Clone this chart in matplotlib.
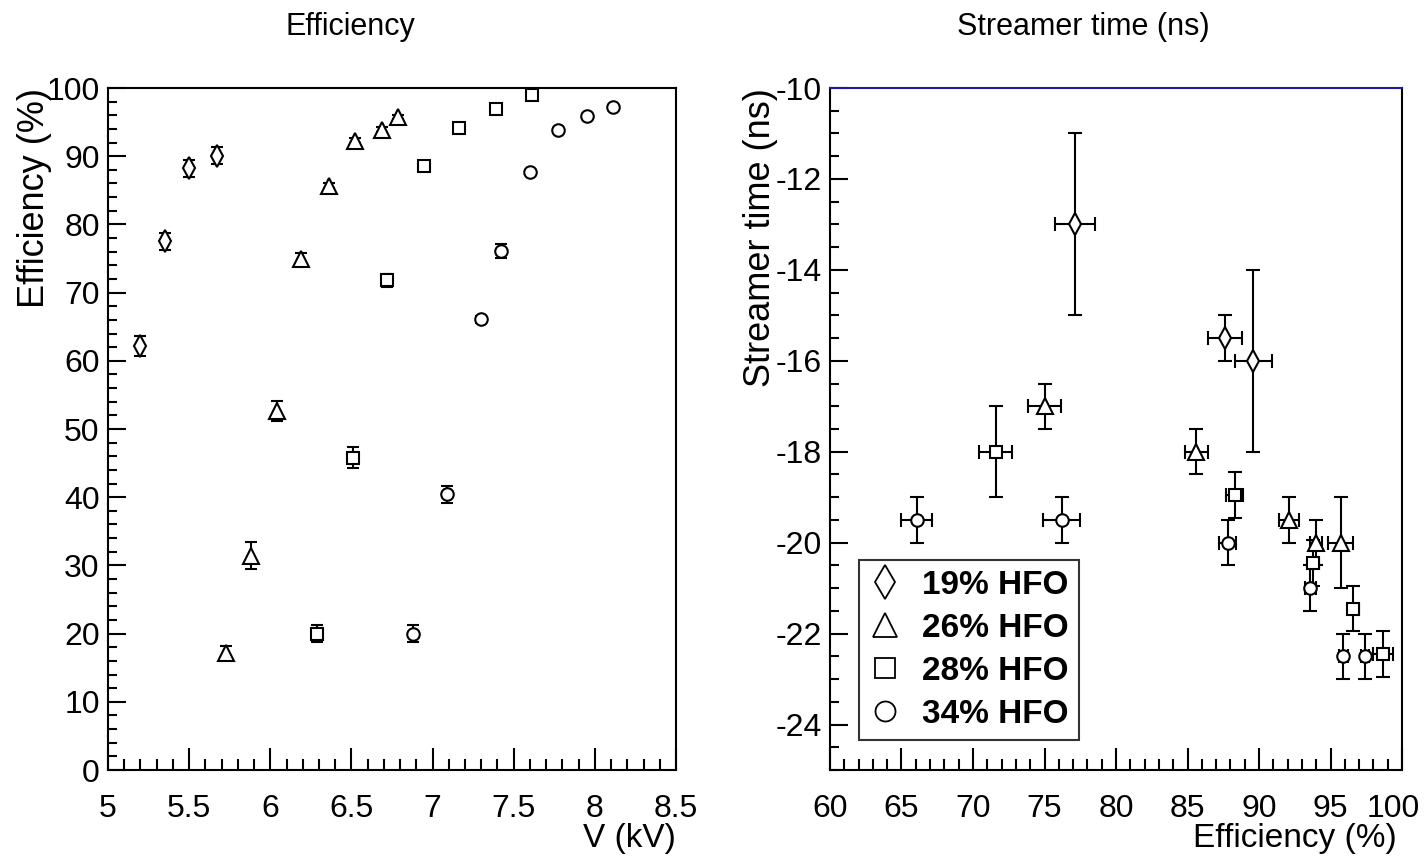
import matplotlib
matplotlib.use("Agg")
import matplotlib.pyplot as plt
from matplotlib.lines import Line2D
from matplotlib.ticker import MultipleLocator

plt.rcParams['font.family'] = ['Liberation Sans', 'DejaVu Sans']
plt.rcParams['axes.unicode_minus'] = False

# --- left panel: efficiency vs HV ---
v19 = [5.20, 5.35, 5.50, 5.67]
eff19 = [62.2, 77.5, 88.2, 90.1]
err19 = [1.5, 1.3, 1.2, 1.2]

v26 = [5.73, 5.88, 6.04, 6.19, 6.36, 6.52, 6.69, 6.79]
eff26 = [17.2, 31.4, 52.6, 75.0, 85.7, 92.3, 93.9, 95.8]
err26 = [1.0, 2.0, 1.5, 0.8, 0.4, 0.4, 0.4, 0.3]

v28 = [6.29, 6.51, 6.72, 6.95, 7.16, 7.39, 7.61]
eff28 = [20.0, 45.8, 71.8, 88.6, 94.2, 96.9, 99.0]
err28 = [1.2, 1.5, 1.0, 0.3, 0.3, 0.3, 0.2]

v34 = [6.88, 7.09, 7.30, 7.42, 7.60, 7.77, 7.95, 8.11]
eff34 = [20.0, 40.4, 66.1, 76.1, 87.7, 93.9, 95.9, 97.2]
err34 = [1.2, 1.2, 0.5, 1.0, 0.3, 0.3, 0.3, 0.3]

# --- right panel: streamer time vs efficiency ---
se19 = [77.1, 87.6, 89.6]
sex19 = [1.4, 1.2, 1.3]
st19 = [-13.0, -15.5, -16.0]
sty19 = [2.0, 0.5, 2.0]

se26 = [75.0, 85.6, 92.1, 94.0, 95.7]
sex26 = [1.15, 0.8, 0.7, 0.4, 0.85]
st26 = [-17.0, -18.0, -19.5, -20.0, -20.0]
sty26 = [0.5, 0.5, 0.5, 0.5, 1.0]

se28 = [71.6, 88.3, 93.8, 96.6, 98.7]
sex28 = [1.15, 0.6, 0.4, 0.4, 0.7]
st28 = [-18.0, -18.95, -20.45, -21.45, -22.45]
sty28 = [1.0, 0.5, 0.5, 0.5, 0.5]

se34 = [66.05, 76.2, 87.8, 93.6, 95.9, 97.4]
sex34 = [1.1, 1.3, 0.6, 0.4, 0.3, 0.3]
st34 = [-19.5, -19.5, -20.0, -21.0, -22.5, -22.5]
sty34 = [0.5, 0.5, 0.5, 0.5, 0.5, 0.5]

labels = ["19% HFO", "26% HFO", "28% HFO", "34% HFO"]
markers = ["d", "^", "s", "o"]
msizes = [11, 11, 9, 9]

fig = plt.figure(figsize=(14.24, 8.58), dpi=100)
W, H = 1424, 858
axL = fig.add_axes([108 / W, 88 / H, 568 / W, 682 / H])
axR = fig.add_axes([830 / W, 88 / H, 572 / W, 682 / H])

XPAD = 17


def style(ax):
    for s in ax.spines.values():
        s.set_linewidth(1.5)
    ax.tick_params(which="both", direction="in", top=False, right=False,
                   width=1.5, labelsize=23, colors="black")
    ax.tick_params(axis="x", which="major", length=16, pad=XPAD)
    ax.tick_params(axis="x", which="minor", length=8)
    ax.tick_params(axis="y", which="major", length=13, pad=6)
    ax.tick_params(axis="y", which="minor", length=6.5)


eb = dict(color="black", mfc="white", mec="black", mew=1.5, elinewidth=1.5,
          capthick=1.5, linestyle="none")

left = [(v19, eff19, err19), (v26, eff26, err26), (v28, eff28, err28), (v34, eff34, err34)]
for (x, y, e), m, ms in zip(left, markers, msizes):
    axL.errorbar(x, y, yerr=e, fmt=m, ms=ms, capsize=4.5, **eb)

axL.set_xlim(5, 8.5)
axL.set_ylim(0, 100)
axL.xaxis.set_major_locator(MultipleLocator(0.5))
axL.xaxis.set_minor_locator(MultipleLocator(0.1))
axL.yaxis.set_major_locator(MultipleLocator(10))
axL.yaxis.set_minor_locator(MultipleLocator(2))
axL.xaxis.set_major_formatter(plt.FuncFormatter(lambda v, p: f"{v:g}"))
style(axL)
axL.set_xlabel("V (kV)", fontsize=24, ha="right", va="bottom")
axL.xaxis.set_label_coords(1.0, -(858 - 770 - 4) / 682)
axL.set_ylabel("Efficiency (%)", fontsize=26, ha="right", va="center")
axL.yaxis.set_label_coords(-0.13, 1.0)

right = [(se19, st19, sex19, sty19), (se26, st26, sex26, sty26),
         (se28, st28, sex28, sty28), (se34, st34, sex34, sty34)]
for (x, y, ex, ey), m, ms in zip(right, markers, msizes):
    axR.errorbar(x, y, xerr=ex, yerr=ey, fmt=m, ms=ms, capsize=5, **eb)

axR.set_xlim(60, 100)
axR.set_ylim(-25, -10)
axR.xaxis.set_major_locator(MultipleLocator(5))
axR.xaxis.set_minor_locator(MultipleLocator(1))
axR.yaxis.set_major_locator(MultipleLocator(2))
axR.yaxis.set_minor_locator(MultipleLocator(0.5))
# the last label ("100") is drawn separately so it stays inside the canvas
axR.xaxis.set_major_formatter(plt.FuncFormatter(lambda v, p: "" if v >= 100 else f"{v:g}"))
style(axR)
axR.annotate("100", xy=(1.0, 0.0), xycoords="axes fraction", xytext=(13, -XPAD),
             textcoords="offset points", ha="right", va="top", fontsize=23)
axR.spines["top"].set_color("#1c1ca0")
axR.set_xlabel("Efficiency (%)", fontsize=24, ha="right", va="bottom")
axR.xaxis.set_label_coords(0.99, -(858 - 770 - 4) / 682)
axR.set_ylabel("Streamer time (ns)", fontsize=26, ha="right", va="center")
axR.yaxis.set_label_coords(-0.122, 1.0)

handles = [Line2D([], [], marker=m, ms=ms * 1.6, mfc="white", mec="black", mew=1.3,
                  linestyle="none") for m, ms in zip(markers, msizes)]
leg = axR.legend(handles, labels, loc="lower left", bbox_to_anchor=(0.05, 0.044),
                 prop={"size": 24, "weight": "bold"}, frameon=True, fancybox=False,
                 handlelength=1.0, handletextpad=0.6, borderpad=0.3, labelspacing=0.36,
                 borderaxespad=0)
leg.get_frame().set_edgecolor("black")
leg.get_frame().set_linewidth(1.5)

fig.text(350 / W, 1 - 27 / H, "Efficiency", ha="center", va="center", fontsize=22)
fig.text(1083 / W, 1 - 27 / H, "Streamer time (ns)", ha="center", va="center", fontsize=22)

fig.savefig("out.png", dpi=100)
